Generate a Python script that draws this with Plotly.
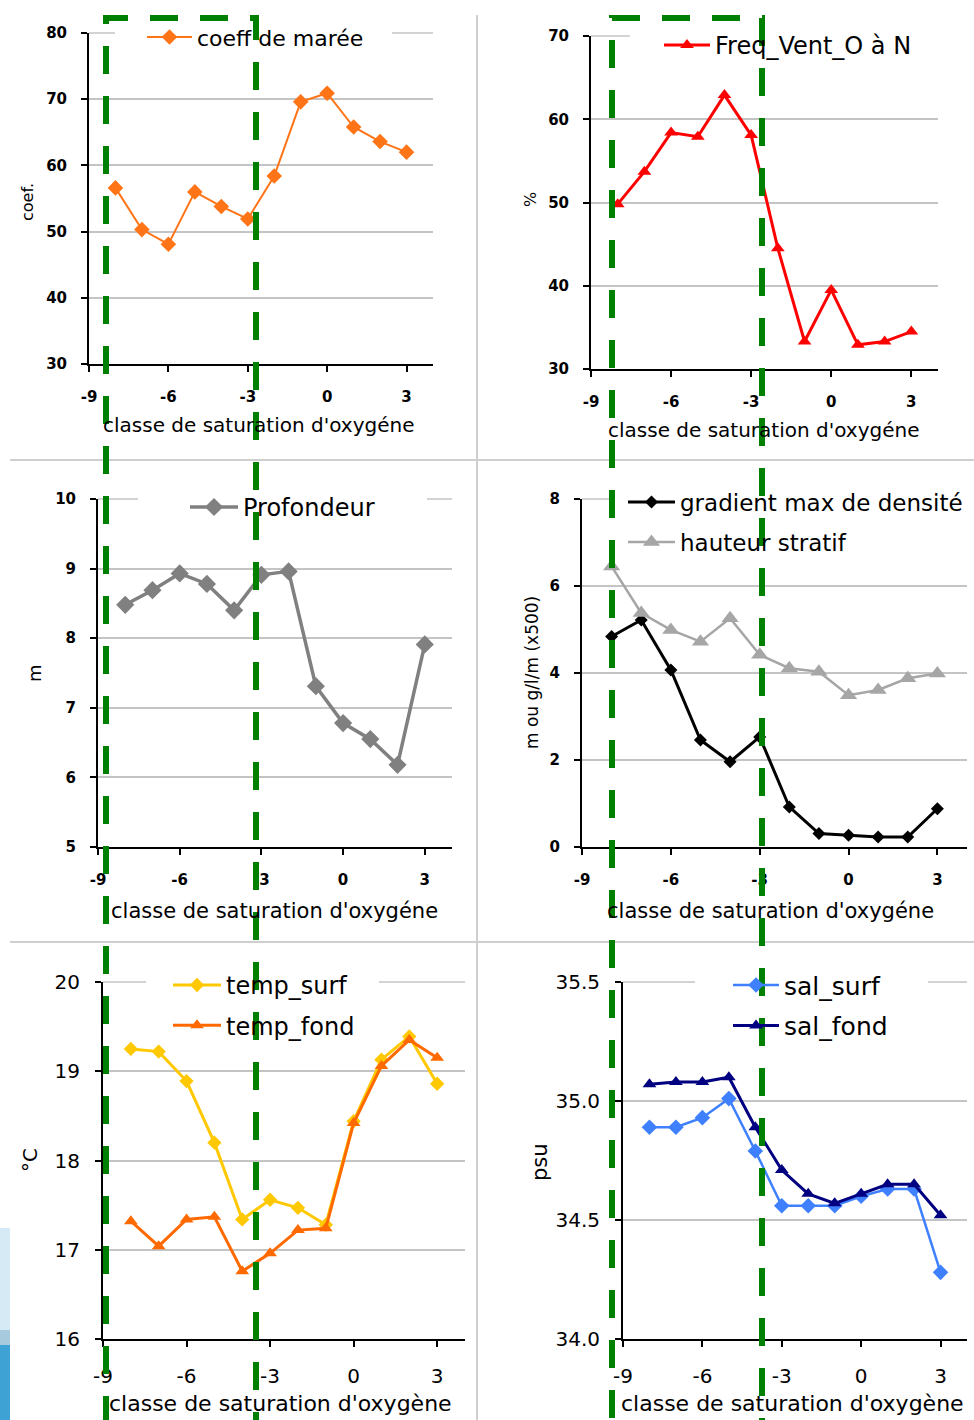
import plotly.graph_objects as go

# Design space = reference pixel space (974 x 1420), figure drawn 1:1.
FIG_W, FIG_H = 974, 1420
FONT = "DejaVu Sans"

# ---------------- data ----------------
classes = [-8, -7, -6, -5, -4, -3, -2, -1, 0, 1, 2, 3]
x_tick_vals = [-9, -6, -3, 0, 3]
x_tick_text = ["-9", "-6", "-3", "0", "3"]

coeff_maree = [56.6, 50.3, 48.1, 56.0, 53.8, 51.9, 58.4, 69.6, 70.9, 65.8, 63.6, 62.0]
freq_vent = [49.8, 53.7, 58.4, 57.9, 62.9, 58.1, 44.5, 33.3, 39.5, 32.9, 33.3, 34.5]
profondeur = [8.48, 8.69, 8.93, 8.78, 8.40, 8.91, 8.96, 7.31, 6.78, 6.55, 6.18, 7.91]
gradient_max = [4.84, 5.22, 4.07, 2.46, 1.96, 2.53, 0.92, 0.31, 0.27, 0.23, 0.23, 0.88]
hauteur_stratif = [6.45, 5.38, 4.99, 4.72, 5.26, 4.42, 4.11, 4.03, 3.49, 3.61, 3.88, 3.99]
temp_surf = [19.25, 19.22, 18.89, 18.20, 17.34, 17.56, 17.47, 17.28, 18.44, 19.13, 19.39, 18.86]
temp_fond = [17.32, 17.04, 17.34, 17.37, 16.76, 16.96, 17.22, 17.24, 18.42, 19.06, 19.35, 19.15]
sal_surf = [34.89, 34.89, 34.93, 35.01, 34.79, 34.56, 34.56, 34.56, 34.60, 34.63, 34.63, 34.28]
sal_fond = [35.07, 35.08, 35.08, 35.10, 34.89, 34.71, 34.61, 34.57, 34.61, 34.65, 34.65, 34.52]

x_title_a = "classe de saturation d'oxygéne"
x_title_b = "classe de saturation d'oxygène"


def X(px):
    return px / FIG_W


def Y(py):
    return 1 - py / FIG_H


def clamp(v):
    return min(1.0, max(0.0, v))


# panel geometry (pixels): x0, x1, ytop, ybottom
# leg = (left px, first-row centre px, item width, font size, group gap)
panels = [
    dict(box=(89, 433, 33, 364), yr=(30, 80), dt=10, fmt="", tf=15, tw="bold", ytitle="coef.",
         yt=(27, 202, 16), xt=(258, 425, 20), xtitle=x_title_a,
         leg=(142, 40, 45, 22, 8), lbg=(115, 392)),
    dict(box=(591, 938, 36, 369), yr=(30, 70), dt=10, fmt="", tf=15, tw="bold", ytitle="%",
         yt=(530, 200, 16), xt=(763, 430, 20), xtitle=x_title_a,
         leg=(659, 48, 46, 24, 6), lbg=(630, 940)),
    dict(box=(98, 452, 499, 847), yr=(5, 10), dt=1, fmt="", tf=15, tw="bold", ytitle="m",
         yt=(35, 673, 18), xt=(274, 911, 21), xtitle=x_title_a,
         leg=(185, 510, 48, 24, 6), lbg=(138, 427)),
    dict(box=(582, 967, 499, 847), yr=(0, 8), dt=2, fmt="", tf=15, tw="bold", ytitle="m ou g/l/m (x500)",
         yt=(532, 673, 17), xt=(770, 911, 21), xtitle=x_title_a,
         leg=(623, 505, 47, 23, 7), lbg=(612, 968)),
    dict(box=(103, 465, 982, 1339), yr=(16, 20), dt=1, fmt="", tf=20, tw="normal", ytitle="°C",
         yt=(30, 1160, 20), xt=(280, 1403, 22), xtitle=x_title_b,
         leg=(168, 988, 48, 24, 6), lbg=(146, 379)),
    dict(box=(623, 967, 982, 1339), yr=(34.0, 35.5), dt=0.5, fmt=".1f", tf=20, tw="normal", ytitle="psu",
         yt=(540, 1162, 21), xt=(792, 1403, 22), xtitle=x_title_b,
         leg=(728, 988, 46, 25, 5), lbg=(695, 928)),
]

series = [
    # panel index, name, values, color, symbol, marker size, line width
    (0, "coeff de marée", coeff_maree, "#ff7416", "diamond", 12, 2),
    (1, "Freq_Vent_O à N", freq_vent, "#ff0000", "triangle-up", 12, 3),
    (2, "Profondeur", profondeur, "#808080", "diamond", 14, 3.5),
    (3, "gradient max de densité", gradient_max, "#000000", "diamond", 10, 3),
    (3, "hauteur stratif", hauteur_stratif, "#a6a6a6", "triangle-up", 15, 2.5),
    (4, "temp_surf", temp_surf, "#ffc800", "diamond", 11, 3),
    (4, "temp_fond", temp_fond, "#ff6a00", "triangle-up", 12, 3),
    (5, "sal_surf", sal_surf, "#3f80ff", "diamond", 12, 2.5),
    (5, "sal_fond", sal_fond, "#000080", "triangle-up", 12, 3),
]

fig = go.Figure()

for i, (p, name, vals, col, sym, ms, lw) in enumerate(series):
    sfx = "" if p == 0 else str(p + 1)
    fig.add_trace(go.Scatter(
        x=classes, y=vals, name=name, mode="lines+markers",
        line=dict(color=col, width=lw),
        marker=dict(color=col, symbol=sym, size=ms),
        xaxis="x" + sfx, yaxis="y" + sfx,
        legend="legend" + sfx, legendgroup="g%d" % i,
    ))

layout = dict(
    width=FIG_W, height=FIG_H,
    margin=dict(l=0, r=0, t=0, b=0, autoexpand=False),
    paper_bgcolor="white", plot_bgcolor="white", showlegend=True,
    font=dict(family=FONT, color="black"),
)

GRID = "#c4c4c4"
annotations = []
shapes = []
cover = []

for k, pn in enumerate(panels):
    sfx = "" if k == 0 else str(k + 1)
    x0, x1, yt, yb = pn["box"]
    tickfont = dict(family=FONT, size=pn["tf"], color="black", weight=pn["tw"])
    layout["xaxis" + sfx] = dict(
        domain=[clamp(X(x0)), clamp(X(x1))], anchor="y" + sfx, range=[-9, 4],
        tickvals=x_tick_vals, ticktext=x_tick_text,
        showline=True, linecolor="black", linewidth=2,
        ticks="outside", ticklen=6, tickwidth=2, tickcolor="black",
        showgrid=False, zeroline=False, tickfont=tickfont,
        ticklabelstandoff=12,
    )
    layout["yaxis" + sfx] = dict(
        domain=[clamp(Y(yb)), clamp(Y(yt))], anchor="x" + sfx, range=list(pn["yr"]),
        dtick=pn["dt"], tick0=pn["yr"][0], tickformat=pn["fmt"],
        showline=True, linecolor="black", linewidth=2,
        ticks="outside", ticklen=6, tickwidth=2, tickcolor="black",
        showgrid=True, gridcolor=GRID, gridwidth=1.5, zeroline=False,
        tickfont=tickfont, ticklabelstandoff=11,
    )
    lx, lc, iw, lf, gap = pn["leg"]
    top = lc - (lf * 1.3 + 3) / 2 - 8
    layout["legend" + sfx] = dict(
        x=X(lx), y=Y(top), xanchor="left", yanchor="top",
        bgcolor="rgba(0,0,0,0)", borderwidth=0, itemwidth=iw,
        tracegroupgap=gap, font=dict(family=FONT, size=lf, color="black"),
    )
    tx, ty, ts = pn["yt"]
    annotations.append(dict(
        text=pn["ytitle"], xref="paper", yref="paper", x=X(tx), y=Y(ty),
        xanchor="center", yanchor="middle", textangle=-90, showarrow=False,
        font=dict(family=FONT, size=ts, color="black"),
    ))
    ax_, ay_, as_ = pn["xt"]
    annotations.append(dict(
        text=pn["xtitle"], xref="paper", yref="paper", x=X(ax_), y=Y(ay_),
        xanchor="center", yanchor="middle", showarrow=False,
        font=dict(family=FONT, size=as_, color="black"),
    ))
    # top gridline (at the range maximum) drawn explicitly
    shapes.append(dict(
        type="line", xref="paper", yref="paper", layer="above",
        x0=X(x0), x1=X(x1), y0=Y(yt), y1=Y(yt),
        line=dict(color=GRID, width=1.5),
    ))
    # white legend background hiding part of the top gridline
    bx0, bx1 = pn["lbg"]
    cover.append(dict(
        type="rect", xref="paper", yref="paper", layer="above",
        x0=X(bx0), x1=X(bx1), y0=Y(yt + 4), y1=Y(yt - 4),
        fillcolor="white", line=dict(width=0),
    ))

shapes += cover

# panel separators
sep = dict(color="#cfcfcf", width=2)
shapes += [
    dict(type="line", xref="paper", yref="paper", x0=X(10), x1=X(980), y0=Y(460), y1=Y(460), line=sep, layer="above"),
    dict(type="line", xref="paper", yref="paper", x0=X(10), x1=X(980), y0=Y(942), y1=Y(942), line=sep, layer="above"),
    dict(type="line", xref="paper", yref="paper", x0=X(477), x1=X(477), y0=Y(15), y1=Y(1440), line=sep, layer="above"),
]

# decorative strip at bottom-left edge
shapes += [
    dict(type="rect", xref="paper", yref="paper", x0=X(0), x1=X(10), y0=Y(1330), y1=Y(1228),
         fillcolor="#d5eaf5", line=dict(width=0), layer="below"),
    dict(type="rect", xref="paper", yref="paper", x0=X(0), x1=X(10), y0=Y(1345), y1=Y(1330),
         fillcolor="#a8cadd", line=dict(width=0), layer="below"),
    dict(type="rect", xref="paper", yref="paper", x0=X(0), x1=X(10), y0=Y(1440), y1=Y(1345),
         fillcolor="#3fa2d4", line=dict(width=0), layer="below"),
]

# green dashed brackets
green = dict(color="#008000", width=6, dash="28px,22px")


def path(pts):
    return "M " + " L ".join("%.6f,%.6f" % (X(a), Y(b)) for a, b in pts)


shapes += [
    dict(type="path", xref="paper", yref="paper", layer="above", line=green,
         path=path([(256, 1440), (256, 18), (106, 18), (106, 1440)])),
    dict(type="path", xref="paper", yref="paper", layer="above", line=green,
         path=path([(612, 1468), (612, 18), (762, 18), (762, 1468)])),
]

layout["annotations"] = annotations
layout["shapes"] = shapes
fig.update_layout(**layout)

fig.write_html("out.html")
